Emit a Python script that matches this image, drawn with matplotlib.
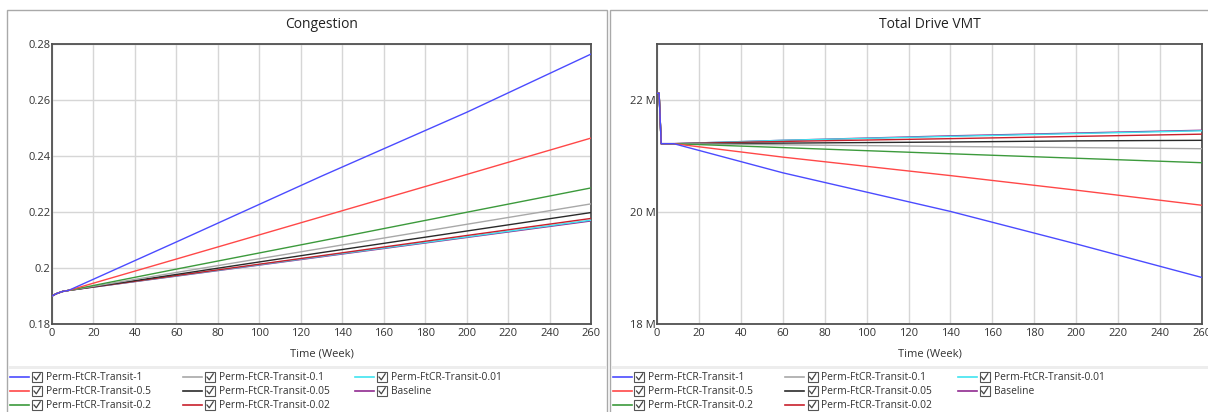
import matplotlib
matplotlib.use("Agg")
import matplotlib.pyplot as plt
from matplotlib.lines import Line2D
from matplotlib.patches import Rectangle
from matplotlib.ticker import FixedLocator, FuncFormatter

plt.rcParams['font.family'] = ['Open Sans', 'DejaVu Sans']

# Time points (weeks) for the congestion runs
t_cong = [0, 2, 5, 8, 60, 130, 200, 260]
cong_transit_1 = [0.190, 0.1908, 0.1916, 0.1920, 0.2093, 0.2328, 0.2556, 0.2764]
cong_transit_05 = [0.190, 0.1908, 0.1916, 0.1920, 0.2032, 0.2183, 0.2334, 0.2464]
cong_transit_02 = [0.190, 0.1908, 0.1916, 0.1920, 0.1996, 0.2097, 0.2199, 0.2286]
cong_transit_01 = [0.190, 0.1908, 0.1916, 0.1920, 0.1984, 0.2070, 0.2156, 0.2229]
cong_transit_005 = [0.190, 0.1908, 0.1916, 0.1920, 0.1977, 0.2055, 0.2132, 0.2198]
cong_transit_002 = [0.190, 0.1908, 0.1916, 0.1920, 0.1973, 0.2044, 0.2116, 0.2177]
cong_transit_001 = [0.190, 0.1908, 0.1916, 0.1920, 0.1972, 0.2042, 0.2111, 0.2171]
cong_baseline = [0.190, 0.1908, 0.1916, 0.1920, 0.1971, 0.2040, 0.2109, 0.2168]

# Time points (weeks) for total drive VMT, values in millions
t_vmt = [0, 1, 2, 5, 8, 60, 140, 200, 260]
vmt_transit_1 = [22.12, 22.12, 21.22, 21.22, 21.22, 20.70, 20.01, 19.43, 18.83]
vmt_transit_05 = [22.12, 22.12, 21.22, 21.22, 21.22, 20.98, 20.65, 20.39, 20.12]
vmt_transit_02 = [22.12, 22.12, 21.22, 21.22, 21.22, 21.15, 21.04, 20.96, 20.88]
vmt_transit_01 = [22.12, 22.12, 21.22, 21.22, 21.22, 21.20, 21.17, 21.15, 21.13]
vmt_transit_005 = [22.12, 22.12, 21.22, 21.22, 21.22, 21.23, 21.25, 21.27, 21.28]
vmt_transit_002 = [22.12, 22.12, 21.22, 21.22, 21.22, 21.26, 21.31, 21.35, 21.39]
vmt_transit_001 = [22.12, 22.12, 21.22, 21.22, 21.22, 21.28, 21.35, 21.40, 21.45]
vmt_baseline = [22.12, 22.12, 21.22, 21.22, 21.22, 21.28, 21.36, 21.41, 21.46]

series_names = ["Perm-FtCR-Transit-1", "Perm-FtCR-Transit-0.5", "Perm-FtCR-Transit-0.2",
                "Perm-FtCR-Transit-0.1", "Perm-FtCR-Transit-0.05", "Perm-FtCR-Transit-0.02",
                "Perm-FtCR-Transit-0.01", "Baseline"]
series_colors = ["#4b4bff", "#ff4848", "#3c9a3c", "#a8a8a8", "#2a2a2a", "#c8202c",
                 "#40e4f0", "#902a90"]

cong_series = [cong_transit_1, cong_transit_05, cong_transit_02, cong_transit_01,
               cong_transit_005, cong_transit_002, cong_transit_001, cong_baseline]
vmt_series = [vmt_transit_1, vmt_transit_05, vmt_transit_02, vmt_transit_01,
              vmt_transit_005, vmt_transit_002, vmt_transit_001, vmt_baseline]

W, H = 1208, 412
fig = plt.figure(figsize=(W / 100, H / 100), dpi=100)
fig.patch.set_facecolor("white")


def fx(px):
    return px / W


def fy(py):
    return 1 - py / H


def panel(x0, x1, ax_l, ax_r, title, t, data, ylim, yticks, yfmt):
    # panel frame
    fig.add_artist(Rectangle((fx(x0), fy(H + 5)), fx(x1) - fx(x0), fy(9.5) - fy(H + 5),
                             transform=fig.transFigure, fill=False,
                             edgecolor="#a9a9a9", linewidth=1.0))
    # light band above the legend
    fig.add_artist(Rectangle((fx(x0 + 1), fy(369)), fx(x1 - 1) - fx(x0 + 1), 3 / H,
                             transform=fig.transFigure, facecolor="#ededed",
                             edgecolor="none"))
    ax = fig.add_axes([fx(ax_l), fy(324), fx(ax_r) - fx(ax_l), fy(44) - fy(324)])
    order = [7, 6, 5, 4, 3, 2, 1, 0]
    for i in order:
        ax.plot(t, data[i], color=series_colors[i], linewidth=1.0, zorder=3)
    ax.set_xlim(0, 260)
    ax.set_ylim(*ylim)
    ax.xaxis.set_major_locator(FixedLocator(list(range(0, 261, 20))))
    ax.yaxis.set_major_locator(FixedLocator(yticks))
    ax.yaxis.set_major_formatter(FuncFormatter(yfmt))
    ax.grid(True, color="#d6d6d6", linewidth=1.0, zorder=0)
    ax.tick_params(length=0, labelsize=8, colors="#333333", pad=3)
    ax.tick_params(axis="y", pad=1)
    for s in ax.spines.values():
        s.set_color("#505050")
        s.set_linewidth(1.3)
    ax.set_xlabel("Time (Week)", fontsize=8, color="#333333", labelpad=7)
    fig.text(fx((ax_l + ax_r) / 2), fy(24), title, ha="center", va="center",
             fontsize=10, color="#222222")

    # legend grid: three columns
    col_x = [x0 + 3, x0 + 176, x0 + 348]
    row_y = [377, 391, 405]
    layout = [(0, 0), (0, 1), (0, 2), (1, 0), (1, 1), (1, 2), (2, 0), (2, 1)]
    for i, (c, r) in enumerate(layout):
        lx = col_x[c]
        ly = row_y[r]
        fig.add_artist(Line2D([fx(lx), fx(lx + 19)], [fy(ly), fy(ly)],
                              transform=fig.transFigure, color=series_colors[i],
                              linewidth=1.2))
        bx = lx + 22
        fig.add_artist(Rectangle((fx(bx), fy(ly + 5)), 10 / W, 10 / H,
                                 transform=fig.transFigure, fill=False,
                                 edgecolor="#555555", linewidth=0.8))
        fig.add_artist(Line2D([fx(bx + 2), fx(bx + 4.3), fx(bx + 8.2)],
                              [fy(ly), fy(ly + 2.8), fy(ly - 3.2)],
                              transform=fig.transFigure, color="#444444",
                              linewidth=0.9))
        fig.text(fx(bx + 14), fy(ly + 0.5), series_names[i], ha="left", va="center",
                 fontsize=7.4, color="#333333")
    return ax


def cong_fmt(v, pos):
    s = f"{v:.2f}".rstrip("0")
    return s


def vmt_fmt(v, pos):
    return f"{v:g} M"


panel(7, 607, 52, 591, "Congestion", t_cong, cong_series, (0.18, 0.28),
      [0.18, 0.2, 0.22, 0.24, 0.26, 0.28], cong_fmt)
panel(609.5, 1212, 657, 1202, "Total Drive VMT", t_vmt, vmt_series, (18, 23),
      [18, 20, 22], vmt_fmt)

fig.savefig("out.png", dpi=100, facecolor="white")
